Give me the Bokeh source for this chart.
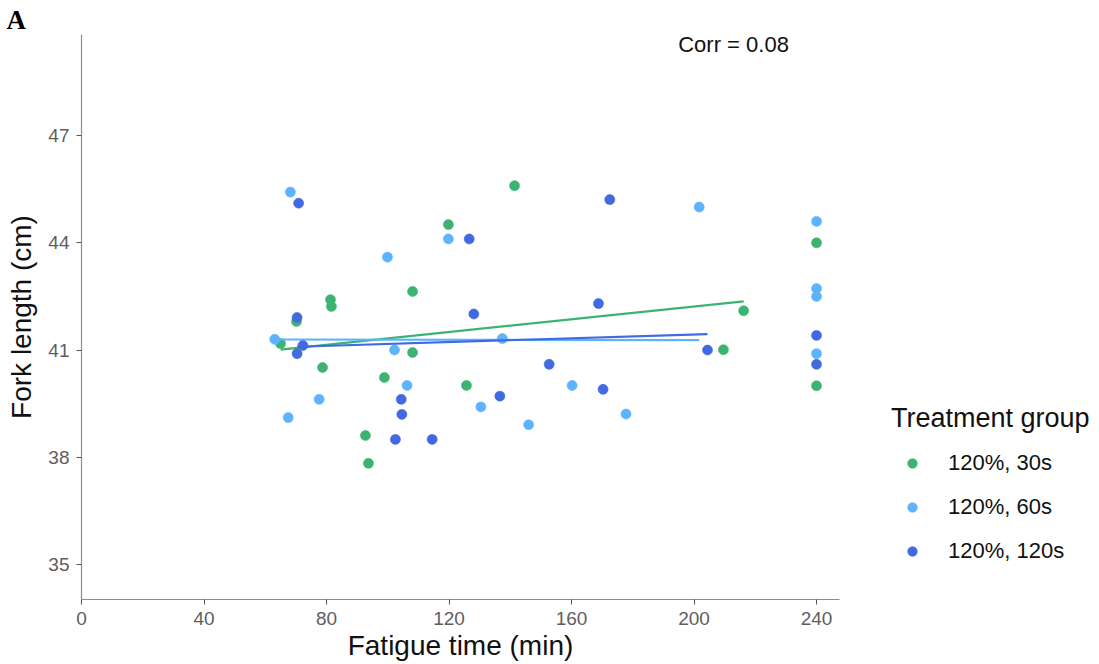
import numpy as np
from bokeh.plotting import figure
from bokeh.models import Legend, LegendItem, Label, Range1d, FixedTicker, Title
from bokeh.embed import file_html
from bokeh.resources import INLINE

# ---- data ----
groups = ["120%, 30s", "120%, 60s", "120%, 120s"]
colors = ["#3CB371", "#5CB3FF", "#4169E1"]

time_30 = [65.0, 70.2, 81.3, 81.6, 78.7, 92.7, 93.7, 98.9, 108.1, 108.1,
           119.8, 125.7, 141.4, 209.6, 216.2, 240.0, 240.0]
len_30 = [41.18, 41.80, 42.41, 42.22, 40.51, 38.61, 37.83, 40.23, 42.64, 40.93,
          44.51, 40.01, 45.60, 41.01, 42.10, 44.00, 40.00]

time_60 = [63.1, 68.2, 99.9, 119.8, 102.2, 137.4, 106.3, 77.6, 67.5, 130.4,
           146.0, 201.7, 160.2, 177.8, 240.0, 240.0, 240.0, 240.0]
len_60 = [41.30, 45.42, 43.60, 44.11, 41.00, 41.32, 40.01, 39.62, 39.11, 39.41,
          38.91, 45.00, 40.01, 39.21, 44.60, 42.72, 42.50, 40.90]

time_120 = [70.9, 126.6, 70.4, 72.3, 70.4, 128.1, 104.4, 104.6, 102.5, 114.5,
            136.6, 172.5, 168.8, 152.7, 170.3, 204.4, 240.0, 240.0]
len_120 = [45.11, 44.11, 41.91, 41.13, 40.90, 42.01, 39.62, 39.20, 38.50, 38.50,
           39.71, 45.21, 42.30, 40.60, 39.90, 41.00, 41.41, 40.60]

x_ticks = [0, 40, 80, 120, 160, 200, 240]
y_ticks = [35, 38, 41, 44, 47]
corr_text = "Corr = 0.08"
panel_tag = "A"

series = [(time_30, len_30), (time_60, len_60), (time_120, len_120)]

FONT = "Liberation Sans"

p = figure(frame_width=758, frame_height=565, output_backend="svg",
           toolbar_location=None,
           x_range=Range1d(0, 247.5), y_range=Range1d(34.02, 49.83),
           min_border_left=81, min_border_top=34, min_border_bottom=50,
           min_border_right=250)
p.background_fill_color = "white"
p.border_fill_color = "white"
p.outline_line_color = None
p.xgrid.visible = False
p.ygrid.visible = False

p.title = Title(text=panel_tag, align="left", offset=-75,
                text_font="Liberation Serif", text_font_style="bold",
                text_font_size="27px", text_color="black", standoff=0)

for ax in (p.xaxis[0], p.yaxis[0]):
    ax.axis_line_color = "#8c8c8c"
    ax.axis_line_width = 1.2
    ax.major_tick_line_color = "#555555"
    ax.major_tick_in = 0
    ax.major_tick_out = 5
    ax.minor_tick_line_color = None
    ax.major_label_text_font = FONT
    ax.major_label_text_font_size = "19px"
    ax.major_label_text_color = "#5e5e5e"
    ax.axis_label_text_font = FONT
    ax.axis_label_text_font_size = "28px"
    ax.axis_label_text_font_style = "normal"
    ax.axis_label_text_color = "#111111"
    ax.major_label_standoff = 7

p.xaxis.ticker = FixedTicker(ticks=x_ticks)
p.yaxis.ticker = FixedTicker(ticks=y_ticks)
p.xaxis.axis_label = "Fatigue time (min)"
p.yaxis.axis_label = "Fork length (cm)"
p.xaxis.axis_label_standoff = 2
p.yaxis.axis_label_standoff = 8

items = []
for (xs, ys), col, name in zip(series, colors, groups):
    xa = np.array(xs)
    ya = np.array(ys)
    m = xa < 240
    k, b = np.polyfit(xa[m], ya[m], 1)
    lx = np.array([xa[m].min(), xa[m].max()])
    p.line(lx, k * lx + b, line_color=col, line_width=2.2)
    r = p.scatter(xs, ys, size=10, fill_color=col, line_color=col, line_alpha=0.6)
    items.append(LegendItem(label=name, renderers=[r]))

legend = Legend(items=items, title="Treatment group", location=(52, 35))
legend.title_text_font = FONT
legend.title_text_font_size = "27px"
legend.title_text_font_style = "normal"
legend.title_text_color = "#111111"
legend.title_standoff = 16
legend.label_text_font = FONT
legend.label_text_font_size = "22px"
legend.label_text_color = "#111111"
legend.glyph_width = 42
legend.glyph_height = 24
legend.label_height = 24
legend.label_standoff = 15
legend.spacing = 18
legend.padding = 0
legend.margin = 0
legend.border_line_color = None
legend.background_fill_alpha = 0
p.add_layout(legend, "right")

p.add_layout(Label(x=212.9, y=49.55, text=corr_text, text_align="center",
                   text_baseline="middle", text_font=FONT,
                   text_font_size="22px", text_color="#111111"))

open("out.html", "w").write(file_html(p, INLINE))
